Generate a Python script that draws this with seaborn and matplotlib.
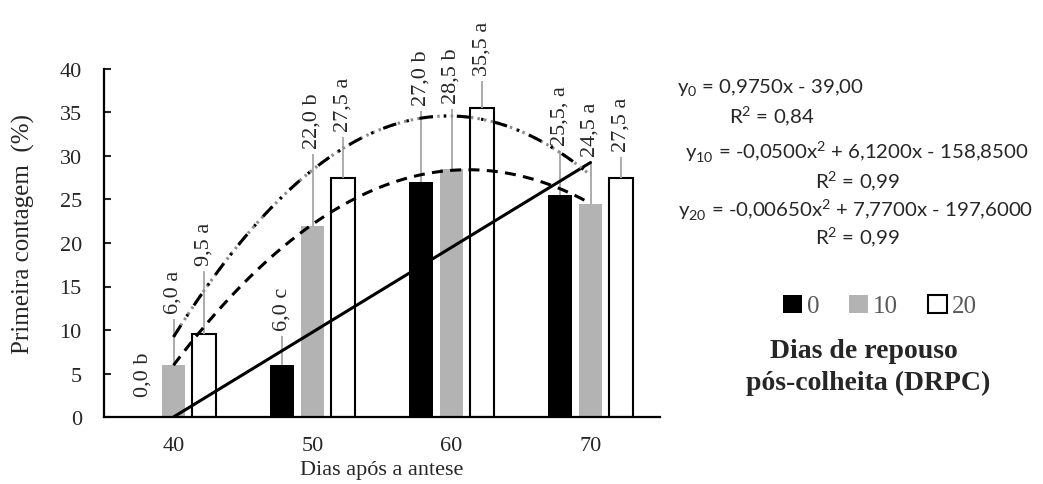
import numpy as np
import pandas as pd
import matplotlib
matplotlib.use("Agg")
import matplotlib.pyplot as plt
import seaborn as sns
from matplotlib.patches import Patch

# --- dados ---
dias = [40, 50, 60, 70]
drpc = ['0', '10', '20']
media_0 = [0.0, 6.0, 27.0, 25.5]
media_10 = [6.0, 22.0, 28.5, 24.5]
media_20 = [9.5, 27.5, 35.5, 27.5]
erro_0 = [0.0, 3.3, 8.2, 5.1]
erro_10 = [5.3, 8.2, 6.9, 4.8]
erro_20 = [7.3, 4.7, 3.1, 2.4]
rotulos_0 = ['0,0 b', '6,0 c', '27,0 b', '25,5, a']
rotulos_10 = ['6,0 a', '22,0 b', '28,5 b', '24,5 a']
rotulos_20 = ['9,5 a', '27,5 a', '35,5 a', '27,5 a']

# coeficientes das regressões (a x² + b x + c)
coef_0 = [0.0, 0.975, -39.0]
coef_10 = [-0.05, 6.12, -158.85]
coef_20 = [-0.065, 7.77, -197.6]

equacoes = [
    ('y$_\\mathregular{0}$ = 0,9750x - 39,00', 'R$^\\mathregular{2}$ = 0,84'),
    ('y$_\\mathregular{10}$ = -0,0500x$^\\mathregular{2}$ + 6,1200x - 158,8500', 'R$^\\mathregular{2}$ = 0,99'),
    ('y$_\\mathregular{20}$ = -0,00650x$^\\mathregular{2}$ + 7,7700x - 197,6000', 'R$^\\mathregular{2}$ = 0,99'),
]

cores = ['#000000', '#b3b3b3', '#ffffff']

df = pd.DataFrame({
    'dia': dias * 3,
    'drpc': [d for d in drpc for _ in dias],
    'valor': media_0 + media_10 + media_20,
})

sns.set_style("white")
plt.rcParams['font.family'] = ['Liberation Serif', 'DejaVu Serif']

W, H = 1043, 485
fig = plt.figure(figsize=(W / 100, H / 100), dpi=100)
ax = fig.add_axes([104 / W, 1 - 418 / H, (660 - 104) / W, (418 - 70) / H])

sns.barplot(data=df, x='dia', y='valor', hue='drpc', hue_order=drpc,
            palette=cores, saturation=1, width=0.66, gap=0.23,
            legend=False, ax=ax, errorbar=None)

for cont, cor in zip(ax.containers, cores):
    for b in cont:
        if cor == '#ffffff':
            b.set_edgecolor('black')
            b.set_linewidth(1.5)
        else:
            b.set_edgecolor('none')

# barras de erro e rótulos
for cont, erros, rot in zip(ax.containers, [erro_0, erro_10, erro_20],
                            [rotulos_0, rotulos_10, rotulos_20]):
    for b, e, r in zip(cont, erros, rot):
        xc = b.get_x() + b.get_width() / 2
        topo = b.get_height()
        if e > 0:
            ax.vlines(xc, topo, topo + e, color='#a6a6a6', lw=1.3, zorder=2)
        ax.text(xc, max(topo + e, 1.7) + 0.7, r, rotation=90, ha='center',
                va='bottom', fontsize=16)

# linhas de tendência
xd = np.linspace(40, 70, 200)
xc = (xd - 40) / 10
ax.plot(xc, np.polyval(coef_0, xd), color='black', lw=2.2, zorder=4)
ax.plot(xc, np.polyval(coef_10, xd), color='black', lw=2.2,
        linestyle=(0, (3.6, 2.4)), zorder=4)
ax.plot(xc, np.polyval(coef_20, xd), color='#8c8c8c', lw=2.2,
        linestyle=(0, (0.8, 1.4)), zorder=4)
ax.plot(xc, np.polyval(coef_20, xd), color='black', lw=2.2,
        linestyle=(0, (4.5, 3.5, 0.8, 3.5)), zorder=5)

ax.set_xlim(-0.5, 3.5)
ax.set_ylim(0, 40)
ax.set_yticks(range(0, 41, 5))
ax.tick_params(axis='y', length=5, width=1.5, direction='in', labelsize=16, pad=16,
               left=True)
ax.tick_params(axis='x', length=0, labelsize=16, pad=14)
for s in ['top', 'right']:
    ax.spines[s].set_visible(False)
for s in ['left', 'bottom']:
    ax.spines[s].set_color('black')
    ax.spines[s].set_linewidth(1.6)
ax.set_xlabel('Dias após a antese', fontsize=16, labelpad=3)
ax.set_ylabel('Primeira contagem  (%)', fontsize=18, labelpad=18)
ax.yaxis.label.set_y(0.53)

# equações
fonte_eq = dict(fontsize=14.7, family=['Lato', 'DejaVu Sans'], va='center')
fig.text(677 / W, 1 - 88 / H, equacoes[0][0], ha='left', **fonte_eq)
fig.text(772 / W, 1 - 117 / H, equacoes[0][1], ha='center', **fonte_eq)
fig.text(685 / W, 1 - 152 / H, equacoes[1][0], ha='left', **fonte_eq)
fig.text(857 / W, 1 - 182 / H, equacoes[1][1], ha='center', **fonte_eq)
fig.text(678 / W, 1 - 210 / H, equacoes[2][0], ha='left', **fonte_eq)
fig.text(857 / W, 1 - 238 / H, equacoes[2][1], ha='center', **fonte_eq)

# legenda
alcas = [Patch(facecolor=cores[0], edgecolor='none'),
         Patch(facecolor=cores[1], edgecolor='none'),
         Patch(facecolor=cores[2], edgecolor='black', linewidth=1.5)]
fig.legend(alcas, drpc, ncol=3, loc='center', bbox_to_anchor=(880 / W, 1 - 307 / H),
           frameon=False, prop={'size': 18}, labelcolor='#595959',
           handlelength=0.75, handleheight=0.75, handletextpad=0.2, columnspacing=1.2)
fig.text(864 / W, 1 - 352 / H, 'Dias de repouso', ha='center', va='center',
         fontsize=20, fontweight='bold')
fig.text(868 / W, 1 - 383 / H, 'pós-colheita (DRPC)', ha='center', va='center',
         fontsize=20, fontweight='bold')

fig.savefig('out.png', dpi=100)
